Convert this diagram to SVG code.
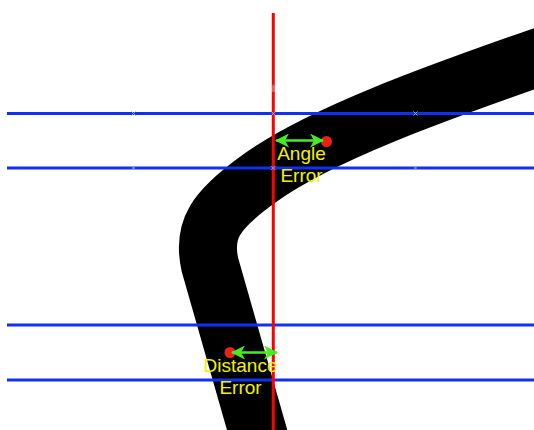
<svg xmlns="http://www.w3.org/2000/svg" width="534" height="430" viewBox="0 0 534 430">
  <style>
    .road { fill: none; stroke: #000; stroke-width: 58; }
    .guide { stroke: #1030f5; stroke-width: 3; }
    .axis { stroke: #ff0000; stroke-width: 3; }
    .tick { stroke: #7fb2e5; stroke-width: 1; }
    .arrow { stroke: #44ee22; stroke-width: 2.5; fill: none; }
    .dot { fill: #e8221a; }
    .lbl { font-family: "Liberation Sans", Arial, sans-serif; font-size: 19px; fill: #f2f200; text-anchor: middle; }
  </style>
  <defs>
    <marker id="ah" viewBox="0 0 14 14" refX="13" refY="7" markerWidth="14" markerHeight="14" markerUnits="userSpaceOnUse" orient="auto-start-reverse">
      <path d="M0,0 L14,7 L0,14 L4,7 Z" fill="#44ee22"/>
    </marker>
  </defs>
  <rect width="534" height="430" fill="#fff"/>
  <g id="road">
    <path class="road" d="M 548 54 C 430 95, 320 135, 260 178 C 215 210, 202 230, 210 265 L 260 440"/>
  </g>
  <g id="guides">
    <line class="guide" x1="7" y1="113.5" x2="534" y2="113.5"/>
    <line class="guide" x1="7" y1="168" x2="534" y2="168"/>
    <line class="guide" x1="7" y1="325" x2="534" y2="325"/>
    <line class="guide" x1="7" y1="380" x2="534" y2="380"/>
  </g>
  <g id="axis">
    <line class="axis" x1="273.3" y1="13" x2="273.3" y2="430"/>
    <polygon points="268,92 273.3,84 278.6,92" fill="#e4f1f8" opacity="0.35"/>
  </g>
  <g id="ticks">
    <path class="tick" d="M131.5,111.5 l4,4 m0,-4 l-4,4 M271.3,111.5 l4,4 m0,-4 l-4,4 M413.5,111.5 l4,4 m0,-4 l-4,4 M131.5,166 l4,4 m0,-4 l-4,4 M271.3,166 l4,4 m0,-4 l-4,4 M413.5,166 l4,4 m0,-4 l-4,4"/>
  </g>
  <g id="angle-error">
    <circle class="dot" cx="326.5" cy="141.5" r="5.5"/>
  </g>
  <g id="distance-error">
    <circle class="dot" cx="230" cy="352.5" r="5.5"/>
  </g>
  <g id="connectors">
    <line class="arrow" x1="276" y1="140.5" x2="323" y2="140.5" marker-start="url(#ah)" marker-end="url(#ah)"/>
    <line class="arrow" x1="232" y1="352.5" x2="277" y2="352.5" marker-start="url(#ah)" marker-end="url(#ah)"/>
  </g>
  <g id="labels">
    <text class="lbl" x="301.5" y="160">Angle</text>
    <text class="lbl" x="301.5" y="182">Error</text>
    <text class="lbl" x="240.5" y="372">Distance</text>
    <text class="lbl" x="240.5" y="394">Error</text>
  </g>
</svg>
